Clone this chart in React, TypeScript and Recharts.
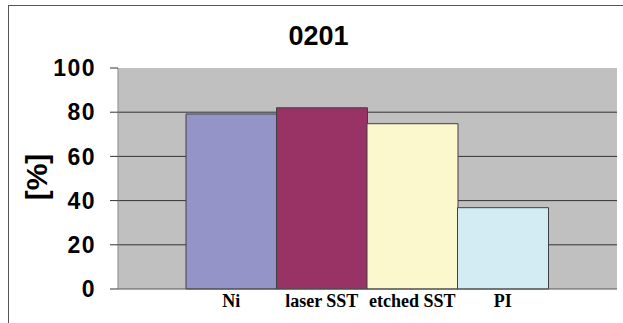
import { Bar, BarChart, CartesianGrid, Cell, XAxis, YAxis } from "recharts";

const categories = ["Ni", "laser SST", "etched SST", "PI"];
const values = [79.2, 82, 74.8, 36.8];
const colors = ["#9494C8", "#993366", "#FAF8CC", "#D3ECF3"];
const yTicks = [0, 20, 40, 60, 80, 100];

const data = categories.map((name, i) => ({ name, value: values[i] }));

export default function App() {
  return (
    <div style={{ position: "absolute", left: 0, top: 0, width: 623, height: 323, background: "#fff" }}>
      <div
        style={{
          position: "absolute",
          left: 8,
          top: 5,
          right: 0,
          bottom: 0,
          borderLeft: "1px solid #555",
          borderTop: "1px solid #555",
        }}
      />
      <div
        style={{
          position: "absolute",
          left: 0,
          width: 623,
          top: 21,
          textAlign: "center",
          font: "bold 27px 'Liberation Sans', Arial, sans-serif",
          lineHeight: "30px",
          paddingLeft: 14,
          boxSizing: "border-box",
        }}
      >
        0201
      </div>
      <div
        style={{
          position: "absolute",
          left: 37,
          top: 177,
          transform: "translate(-50%, -50%) rotate(-90deg)",
          font: "bold 30px 'Liberation Sans', Arial, sans-serif",
          whiteSpace: "nowrap",
        }}
      >
        [%]
      </div>
      <div style={{ position: "absolute", left: 0, top: 0 }}>
        <BarChart
          width={623}
          height={323}
          data={data}
          margin={{ top: 68, right: 6, bottom: 4, left: 0 }}
          barCategoryGap={0}
          barGap={0}
        >
          <CartesianGrid
            vertical={false}
            fill="#C0C0C0"
            fillOpacity={1}
            stroke="#333"
            horizontalValues={[20, 40, 60, 80]}
          />
          <XAxis
            dataKey="name"
            height={30}
            padding={{ left: 68, right: 69 }}
            tickLine={false}
            tickSize={0}
            tickMargin={5}
            axisLine={{ stroke: "#555" }}
            tick={{ fill: "#000", fontSize: 18, fontWeight: "bold", fontFamily: "'Liberation Serif', 'Times New Roman', serif" }}
            interval={0}
          />
          <YAxis
            width={118}
            domain={[0, 100]}
            ticks={yTicks}
            tickSize={8}
            tickMargin={14}
            axisLine={{ stroke: "#888" }}
            tickLine={{ stroke: "#333" }}
            tick={{ fill: "#000", fontSize: 23, fontWeight: "bold", letterSpacing: 1.5, fontFamily: "'Liberation Sans', Arial, sans-serif" }}
          />
          <Bar dataKey="value" stroke="#404040" strokeWidth={1} isAnimationActive={false}>
            {data.map((d, i) => (
              <Cell key={d.name} fill={colors[i]} />
            ))}
          </Bar>
        </BarChart>
      </div>
    </div>
  );
}
